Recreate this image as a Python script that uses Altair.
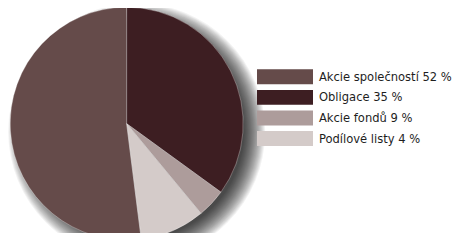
import altair as alt
import pandas as pd

# Legend labels (as printed) and the slice sizes as drawn (percent)
categories = ["Akcie společností 52 %", "Obligace 35 %", "Akcie fondů 9 %", "Podílové listy 4 %"]
values = [52, 35, 4, 9]
draw_order = [4, 1, 2, 3]  # clockwise from 12 o'clock
colors = ["#654b4a", "#3d1e22", "#ad9c9b", "#d4cbc9"]

df = pd.DataFrame({"cat": categories, "value": values, "ord": draw_order})
one = pd.DataFrame({"k": [0]})

W, H = 446, 225
CX, CY, R = 118.7, 115.7, 116.5
FONT = "DejaVu Sans Condensed, sans-serif"

color_scale = alt.Scale(domain=categories, range=colors)

# soft drop shadow built from stacked translucent discs
shadow_layers = []
for i in range(22):
    rr = R + 12 - i
    shadow_layers.append(
        alt.Chart(one).mark_arc(radius=rr, theta=0, theta2=6.2832, color="#000000", opacity=0.05)
        .encode(x=alt.value(CX + 10), y=alt.value(CY + 8))
    )

pie = alt.Chart(df).mark_arc(radius=R, stroke="#ffffff", strokeWidth=0.3).encode(
    theta=alt.Theta("value:Q", stack=True),
    order=alt.Order("ord:Q"),
    color=alt.Color("cat:N", scale=color_scale, legend=None),
    x=alt.value(CX),
    y=alt.value(CY),
)

yscale = alt.Scale(type="band", domain=categories, range=[61.3, 138.0], paddingInner=0.275, paddingOuter=0)

legend_rects = alt.Chart(df).mark_rect().encode(
    y=alt.Y("cat:N", scale=yscale, axis=None),
    x=alt.value(249),
    x2=alt.value(305),
    color=alt.Color("cat:N", scale=color_scale, legend=None),
)

legend_text = alt.Chart(df).mark_text(
    align="left", baseline="middle", font=FONT, fontSize=12.8, color="#1e1e1e"
).encode(
    y=alt.Y("cat:N", scale=yscale, axis=None),
    x=alt.value(311),
    text="cat:N",
)

chart = alt.layer(*shadow_layers, pie, legend_rects, legend_text).properties(
    width=W, height=H, autosize=alt.AutoSizeParams(type="none"), padding=0,
    background="#ffffff",
).configure_view(stroke=None)

chart.save("out.html", embed_options={"renderer": "svg", "actions": False})
